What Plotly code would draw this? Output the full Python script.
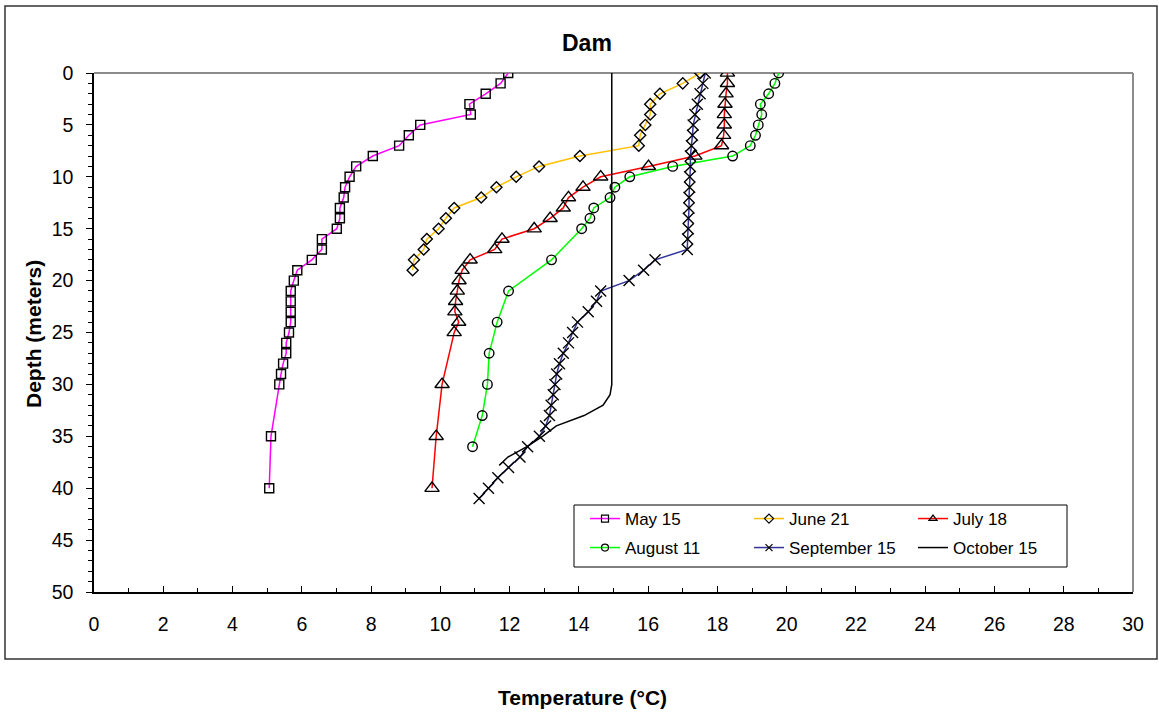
import plotly.graph_objects as go

# ---------------- data ----------------
may_depth = [0, 1, 2, 3, 4, 5, 6, 7, 8, 9, 10, 11, 12, 13, 14, 15, 16, 17, 18, 19, 20,
             21, 22, 23, 24, 25, 26, 27, 28, 29, 30, 35, 40]
may_temp = [11.96, 11.74, 11.31, 10.84, 10.88, 9.42, 9.09, 8.81, 8.05, 7.57, 7.38, 7.25,
            7.21, 7.10, 7.10, 7.01, 6.58, 6.58, 6.29, 5.87, 5.77, 5.68, 5.68, 5.68, 5.68,
            5.63, 5.55, 5.55, 5.46, 5.40, 5.35, 5.11, 5.06]

june_depth = list(range(0, 20))
june_temp = [17.50, 17.00, 16.34, 16.06, 16.06, 15.92, 15.77, 15.73, 14.03, 12.85, 12.19,
             11.62, 11.18, 10.40, 10.16, 9.95, 9.61, 9.52, 9.24, 9.20]

july_depth = list(range(0, 26)) + [30, 35, 40]
july_temp = [18.29, 18.29, 18.25, 18.22, 18.20, 18.20, 18.18, 18.12, 17.35, 16.01, 14.63,
             14.12, 13.70, 13.55, 13.17, 12.71, 11.78, 11.57, 10.86, 10.63, 10.54, 10.49,
             10.44, 10.42, 10.53, 10.40, 10.05, 9.88, 9.76]

aug_depth = list(range(0, 16)) + [18, 21, 24, 27, 30, 33, 36]
aug_temp = [19.77, 19.66, 19.48, 19.24, 19.28, 19.18, 19.10, 18.95, 18.44, 16.71, 15.47,
            15.04, 14.90, 14.43, 14.32, 14.08, 13.21, 11.97, 11.64, 11.41, 11.36, 11.21, 10.93]

sep_depth = list(range(0, 42))
sep_temp = [17.65, 17.58, 17.50, 17.42, 17.35, 17.30, 17.28, 17.25, 17.22, 17.22, 17.20,
            17.20, 17.18, 17.18, 17.16, 17.16, 17.14, 17.13, 16.20, 15.87, 15.45, 14.63,
            14.51, 14.27, 13.96, 13.82, 13.70, 13.55, 13.44, 13.36, 13.31, 13.26, 13.20,
            13.15, 13.04, 12.86, 12.52, 12.30, 11.97, 11.66, 11.39, 11.12]

oct_depth = [0, 5, 10, 15, 20, 25, 29, 30, 31, 32, 33, 34, 35, 36, 37, 37.8]
oct_temp = [14.95, 14.95, 14.95, 14.95, 14.95, 14.95, 14.97, 14.95, 14.90, 14.70, 14.15,
            13.35, 12.95, 12.50, 11.95, 11.70]

x_ticks = list(range(0, 31, 2))
y_ticks = list(range(0, 51, 5))

FONT = "Arial, Liberation Sans, sans-serif"

series = [
    ("May 15", may_temp, may_depth, "#FF00FF", "square-open", 9, "legend"),
    ("June 21", june_temp, june_depth, "#FFC000", "diamond-open", 8.5, "legend"),
    ("July 18", july_temp, july_depth, "#FF0000", "triangle-up-open", 12.5, "legend"),
    ("August 11", aug_temp, aug_depth, "#00FF00", "circle-open", 9.5, "legend2"),
    ("September 15", sep_temp, sep_depth, "#333399", "x-thin-open", 11, "legend2"),
]

fig = go.Figure()
for name, xs, ys, col, sym, sz, lg in series:
    fig.add_trace(go.Scatter(
        x=xs, y=ys, name=name, mode="lines+markers", showlegend=False,
        line=dict(color=col, width=1.5),
        marker=dict(symbol=sym, size=sz, color="black",
                    line=dict(color="black", width=1.4)),
    ))
fig.add_trace(go.Scatter(
    x=oct_temp, y=oct_depth, name="October 15", mode="lines", showlegend=False,
    line=dict(color="black", width=1.5),
))

# legend entries (smaller legend markers, as in the original)
for name, xs, ys, col, sym, sz, lg in series:
    fig.add_trace(go.Scatter(
        x=[None], y=[None], name=name, mode="lines+markers", legend=lg,
        line=dict(color=col, width=1.5),
        marker=dict(symbol=sym, size=7, color="black",
                    line=dict(color="black", width=1.2)),
    ))
fig.add_trace(go.Scatter(
    x=[None], y=[None], name="October 15", mode="lines", legend="legend2",
    line=dict(color="black", width=1.5),
))

W, H = 1159, 712
L, R, T, B = 94, 1159 - 1133, 73, 712 - 592
pw, ph = W - L - R, H - T - B


def px(xp):
    return (xp - L) / pw


def py(yp):
    return (H - B - yp) / ph


leg_common = dict(orientation="h", xanchor="left", yanchor="middle",
                  entrywidth=119, entrywidthmode="pixels", bgcolor="rgba(0,0,0,0)",
                  borderwidth=0, font=dict(size=17), itemsizing="trace")

fig.update_layout(
    width=W, height=H,
    margin=dict(l=L, r=R, t=T, b=B, pad=0),
    paper_bgcolor="white", plot_bgcolor="white",
    font=dict(family=FONT, size=17, color="black"),
    showlegend=True,
    legend=dict(x=px(585), y=py(519), **leg_common),
    legend2=dict(x=px(585), y=py(548), **leg_common),
    xaxis=dict(range=[0, 30], tickvals=x_ticks, ticks="inside", ticklen=6, tickwidth=1.3,
               tickcolor="black", showline=True, linecolor="black", linewidth=1.5,
               showgrid=False, zeroline=False, ticklabelstandoff=14,
               minor=dict(dtick=1, ticks="inside", ticklen=4, tickcolor="black",
                          tickwidth=1.3, showgrid=False),
               tickfont=dict(size=19.5)),
    yaxis=dict(range=[50, 0], tickvals=y_ticks, ticks="outside", ticklen=6, tickwidth=1.3,
               tickcolor="black", showline=True, linecolor="black", linewidth=1.5,
               showgrid=False, zeroline=False, ticklabelstandoff=9,
               minor=dict(dtick=1, ticks="outside", ticklen=4, tickcolor="black",
                          tickwidth=1.3, showgrid=False),
               tickfont=dict(size=19.5)),
    shapes=[
        # plot area gray top / right border
        dict(type="line", xref="paper", yref="paper", x0=0, x1=1, y0=1, y1=1,
             line=dict(color="#8c8c8c", width=2), layer="below"),
        dict(type="line", xref="paper", yref="paper", x0=1, x1=1, y0=0, y1=1,
             line=dict(color="#8c8c8c", width=2), layer="below"),
        # outer chart border
        dict(type="rect", xref="paper", yref="paper", x0=px(5), x1=px(1157),
             y0=py(659), y1=py(6), line=dict(color="#333333", width=1.5)),
        # legend box
        dict(type="rect", xref="paper", yref="paper", x0=px(574), x1=px(1067),
             y0=py(567), y1=py(505), line=dict(color="black", width=1),
             fillcolor="white", layer="below"),
    ],
    annotations=[
        dict(text="<b>Dam</b>", xref="paper", yref="paper", x=px(587), y=py(43),
             xanchor="center", yanchor="middle", showarrow=False, font=dict(size=23)),
        dict(text="<b>Depth (meters)</b>", xref="paper", yref="paper", x=px(33), y=py(334),
             xanchor="center", yanchor="middle", textangle=-90, showarrow=False,
             font=dict(size=21)),
        dict(text="<b>Temperature (°C)</b>", xref="paper", yref="paper", x=px(582.5),
             y=py(697), xanchor="center", yanchor="middle", showarrow=False,
             font=dict(size=21)),
    ],
)

fig.write_html("out.html")
